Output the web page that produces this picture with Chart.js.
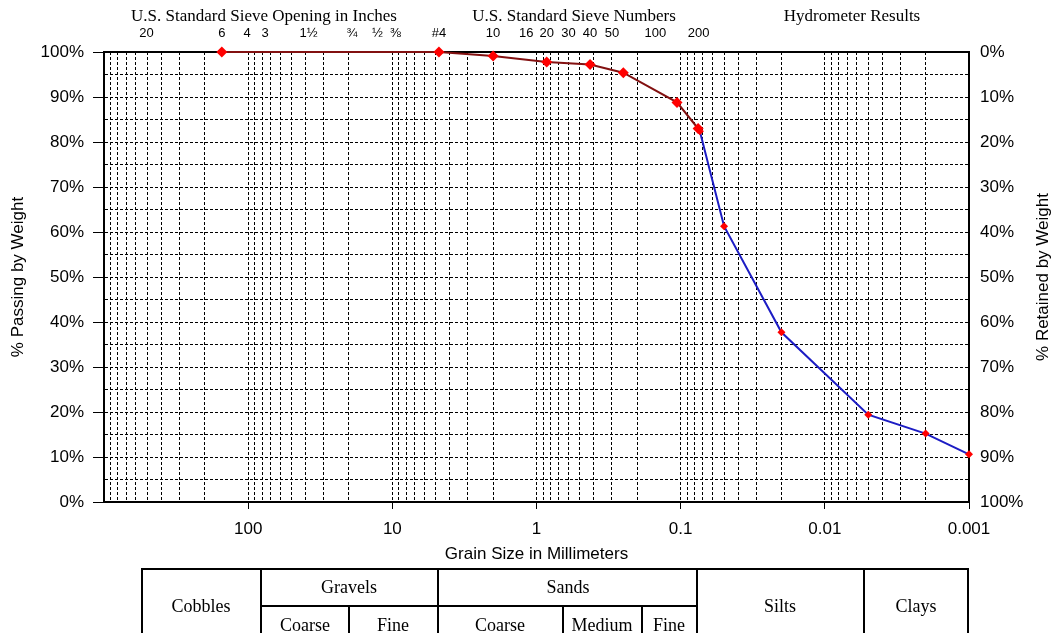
<!DOCTYPE html>
<html>
<head>
<meta charset="utf-8">
<script src="https://cdn.jsdelivr.net/npm/chart.js@4.4.0/dist/chart.umd.min.js"></script>
<style>
  body { margin: 0; background: #fff; }
  #gradation { display: block; }
</style>
</head>
<body>
<canvas id="gradation" width="1055" height="633"></canvas>
<script>
// sieve analysis (mm, % passing)
const sieveGrain = [152.4, 4.75, 2.0, 0.85, 0.425, 0.25, 0.106, 0.0757];
const sievePassing = [100, 100, 99.1, 97.8, 97.2, 95.4, 88.8, 83.0];

// hydrometer readings (mm, % passing)
const hydroGrain = [0.0736, 0.05, 0.02, 0.005, 0.002, 0.001];
const hydroPassing = [82.4, 61.3, 37.7, 19.4, 15.2, 10.6];

// sieve openings along the top edge
const openingSizes = [508, 152.4, 101.6, 76.2, 38.1, 19.05, 12.7, 9.525, 4.75, 2.0, 1.18, 0.85, 0.6, 0.425, 0.3, 0.15, 0.075];
const openingLabels = ['20', '6', '4', '3', '1½', '¾', '½', '⅜', '#4', '10', '16', '20', '30', '40', '50', '100', '200'];

// grain size axis labels
const decadeValues = [100, 10, 1, 0.1, 0.01, 0.001];
const decadeLabels = ['100', '10', '1', '0.1', '0.01', '0.001'];

// percent grid, every 5 %
const percentSteps = [0, 5, 10, 15, 20, 25, 30, 35, 40, 45, 50, 55, 60, 65, 70, 75, 80, 85, 90, 95, 100];

const SANS = "'Liberation Sans', Arial, sans-serif";
const SERIF = "'Liberation Serif', 'Times New Roman', serif";

Chart.defaults.color = '#000';
Chart.defaults.font.family = SANS;

// 1,2,...,9 x 10^n grid from 0.001 to 1000
const logGrid = [];
for (let e = -3; e <= 2; e++) {
    for (let m = 1; m <= 9; m++) {
        logGrid.push(Number((m * Math.pow(10, e)).toPrecision(3)));
    }
}
logGrid.push(1000);

function decadeIndex(v) {
    return decadeValues.findIndex(d => Math.abs(d - v) / d < 1e-6);
}

const gridDash = [3, 2];

const headerPlugin = {
    id: 'headers',
    afterDraw(chart) {
        const ctx = chart.ctx;
        ctx.save();
        ctx.fillStyle = '#000';
        ctx.textBaseline = 'middle';
        ctx.textAlign = 'center';
        ctx.font = '17px ' + SERIF;
        ctx.fillText('U.S. Standard Sieve Opening in Inches', 264, 17);
        ctx.fillText('U.S. Standard Sieve Numbers', 574, 17);
        ctx.fillText('Hydrometer Results', 852, 17);

        // right axis title reads bottom to top
        ctx.font = '17px ' + SANS;
        ctx.translate(1043, (chart.chartArea.top + chart.chartArea.bottom) / 2);
        ctx.rotate(-Math.PI / 2);
        ctx.fillText('% Retained by Weight', 0, 0);
        ctx.restore();
    }
};

const tablePlugin = {
    id: 'soilTable',
    afterDraw(chart) {
        const ctx = chart.ctx;
        const top = 569, mid = 606, bottom = 648;
        ctx.save();
        ctx.strokeStyle = '#000';
        ctx.lineWidth = 2;
        ctx.strokeRect(142, top, 826, bottom - top);
        ctx.beginPath();
        [261, 438, 697, 864].forEach(x => { ctx.moveTo(x, top); ctx.lineTo(x, bottom); });
        [349, 563, 642].forEach(x => { ctx.moveTo(x, mid); ctx.lineTo(x, bottom); });
        ctx.moveTo(261, mid);
        ctx.lineTo(697, mid);
        ctx.stroke();

        ctx.fillStyle = '#000';
        ctx.font = '18px ' + SERIF;
        ctx.textAlign = 'center';
        ctx.textBaseline = 'middle';
        ctx.fillText('Cobbles', 201, 607);
        ctx.fillText('Gravels', 349, 588);
        ctx.fillText('Sands', 568, 588);
        ctx.fillText('Silts', 780, 607);
        ctx.fillText('Clays', 916, 607);
        ctx.fillText('Coarse', 305, 626);
        ctx.fillText('Fine', 393, 626);
        ctx.fillText('Coarse', 500, 626);
        ctx.fillText('Medium', 602, 626);
        ctx.fillText('Fine', 669, 626);
        ctx.restore();
    }
};

const chart = new Chart(document.getElementById('gradation'), {
    type: 'scatter',
    data: {
        datasets: [{
            label: 'Sieve',
            data: sieveGrain.map((x, i) => ({x: x, y: sievePassing[i]})),
            showLine: true,
            borderColor: '#821010',
            borderWidth: 2,
            pointStyle: 'rectRot',
            pointRadius: 5.5,
            pointBackgroundColor: '#ff0000',
            pointBorderColor: '#ff0000',
            pointBorderWidth: 0,
            clip: false
        }, {
            label: 'Hydrometer',
            data: hydroGrain.map((x, i) => ({x: x, y: hydroPassing[i]})),
            showLine: true,
            borderColor: '#1c1cc4',
            borderWidth: 2,
            pointStyle: 'rectRot',
            pointRadius: 4,
            pointBackgroundColor: '#ff0000',
            pointBorderColor: '#ff0000',
            pointBorderWidth: 0,
            clip: false
        }]
    },
    options: {
        responsive: false,
        animation: false,
        layout: {padding: {top: 0, left: 0, right: 0, bottom: 68}},
        plugins: {legend: {display: false}, tooltip: {enabled: false}},
        scales: {
            x: {
                type: 'logarithmic',
                position: 'bottom',
                reverse: true,
                min: 0.001,
                max: 1000,
                afterBuildTicks: s => { s.ticks = logGrid.map(v => ({value: v})); },
                afterFit: s => { s.height = 63; s.paddingLeft = 0; s.paddingRight = 0; },
                ticks: {
                    autoSkip: false,
                    maxRotation: 0,
                    padding: 10,
                    font: {size: 17},
                    callback: v => {
                        const i = decadeIndex(v);
                        return i >= 0 ? decadeLabels[i] : '';
                    }
                },
                grid: {
                    color: '#000',
                    lineWidth: 1,
                    tickLength: 7,
                    tickColor: c => decadeIndex(c.tick.value) >= 0 ? '#000' : 'rgba(0,0,0,0)'
                },
                border: {display: true, color: '#000', width: 2, dash: gridDash},
                title: {display: true, text: 'Grain Size in Millimeters', font: {size: 17}, padding: {top: 0, bottom: 0}}
            },
            xTop: {
                type: 'logarithmic',
                axis: 'x',
                position: 'top',
                reverse: true,
                min: 0.001,
                max: 1000,
                afterBuildTicks: s => { s.ticks = openingSizes.map(v => ({value: v})); },
                afterFit: s => { s.height = 52; s.paddingLeft = 0; s.paddingRight = 0; },
                ticks: {
                    autoSkip: false,
                    maxRotation: 0,
                    padding: 11,
                    font: {size: 13},
                    callback: (v, i) => openingLabels[i]
                },
                grid: {display: false, drawTicks: false},
                border: {display: true, color: '#000', width: 2}
            },
            y: {
                type: 'linear',
                position: 'left',
                min: 0,
                max: 100,
                afterBuildTicks: s => { s.ticks = percentSteps.map(v => ({value: v})); },
                afterFit: s => { s.width = 104; },
                ticks: {
                    autoSkip: false,
                    padding: 9,
                    font: {size: 17},
                    callback: v => v % 10 === 0 ? v + '%' : ''
                },
                grid: {
                    color: '#000',
                    lineWidth: 1,
                    tickLength: 11,
                    tickColor: c => c.tick.value % 10 === 0 ? '#000' : 'rgba(0,0,0,0)'
                },
                border: {display: true, color: '#000', width: 2, dash: gridDash},
                title: {display: true, text: '% Passing by Weight', font: {size: 17}, padding: {top: 8, bottom: 0}}
            },
            y2: {
                type: 'linear',
                position: 'right',
                reverse: true,
                min: 0,
                max: 100,
                afterFit: s => { s.width = 86; },
                ticks: {
                    stepSize: 10,
                    padding: 11,
                    font: {size: 17},
                    callback: v => v + '%'
                },
                grid: {display: false, drawTicks: false},
                border: {display: true, color: '#000', width: 2}
            }
        }
    },
    plugins: [headerPlugin, tablePlugin]
});
</script>
</body>
</html>
